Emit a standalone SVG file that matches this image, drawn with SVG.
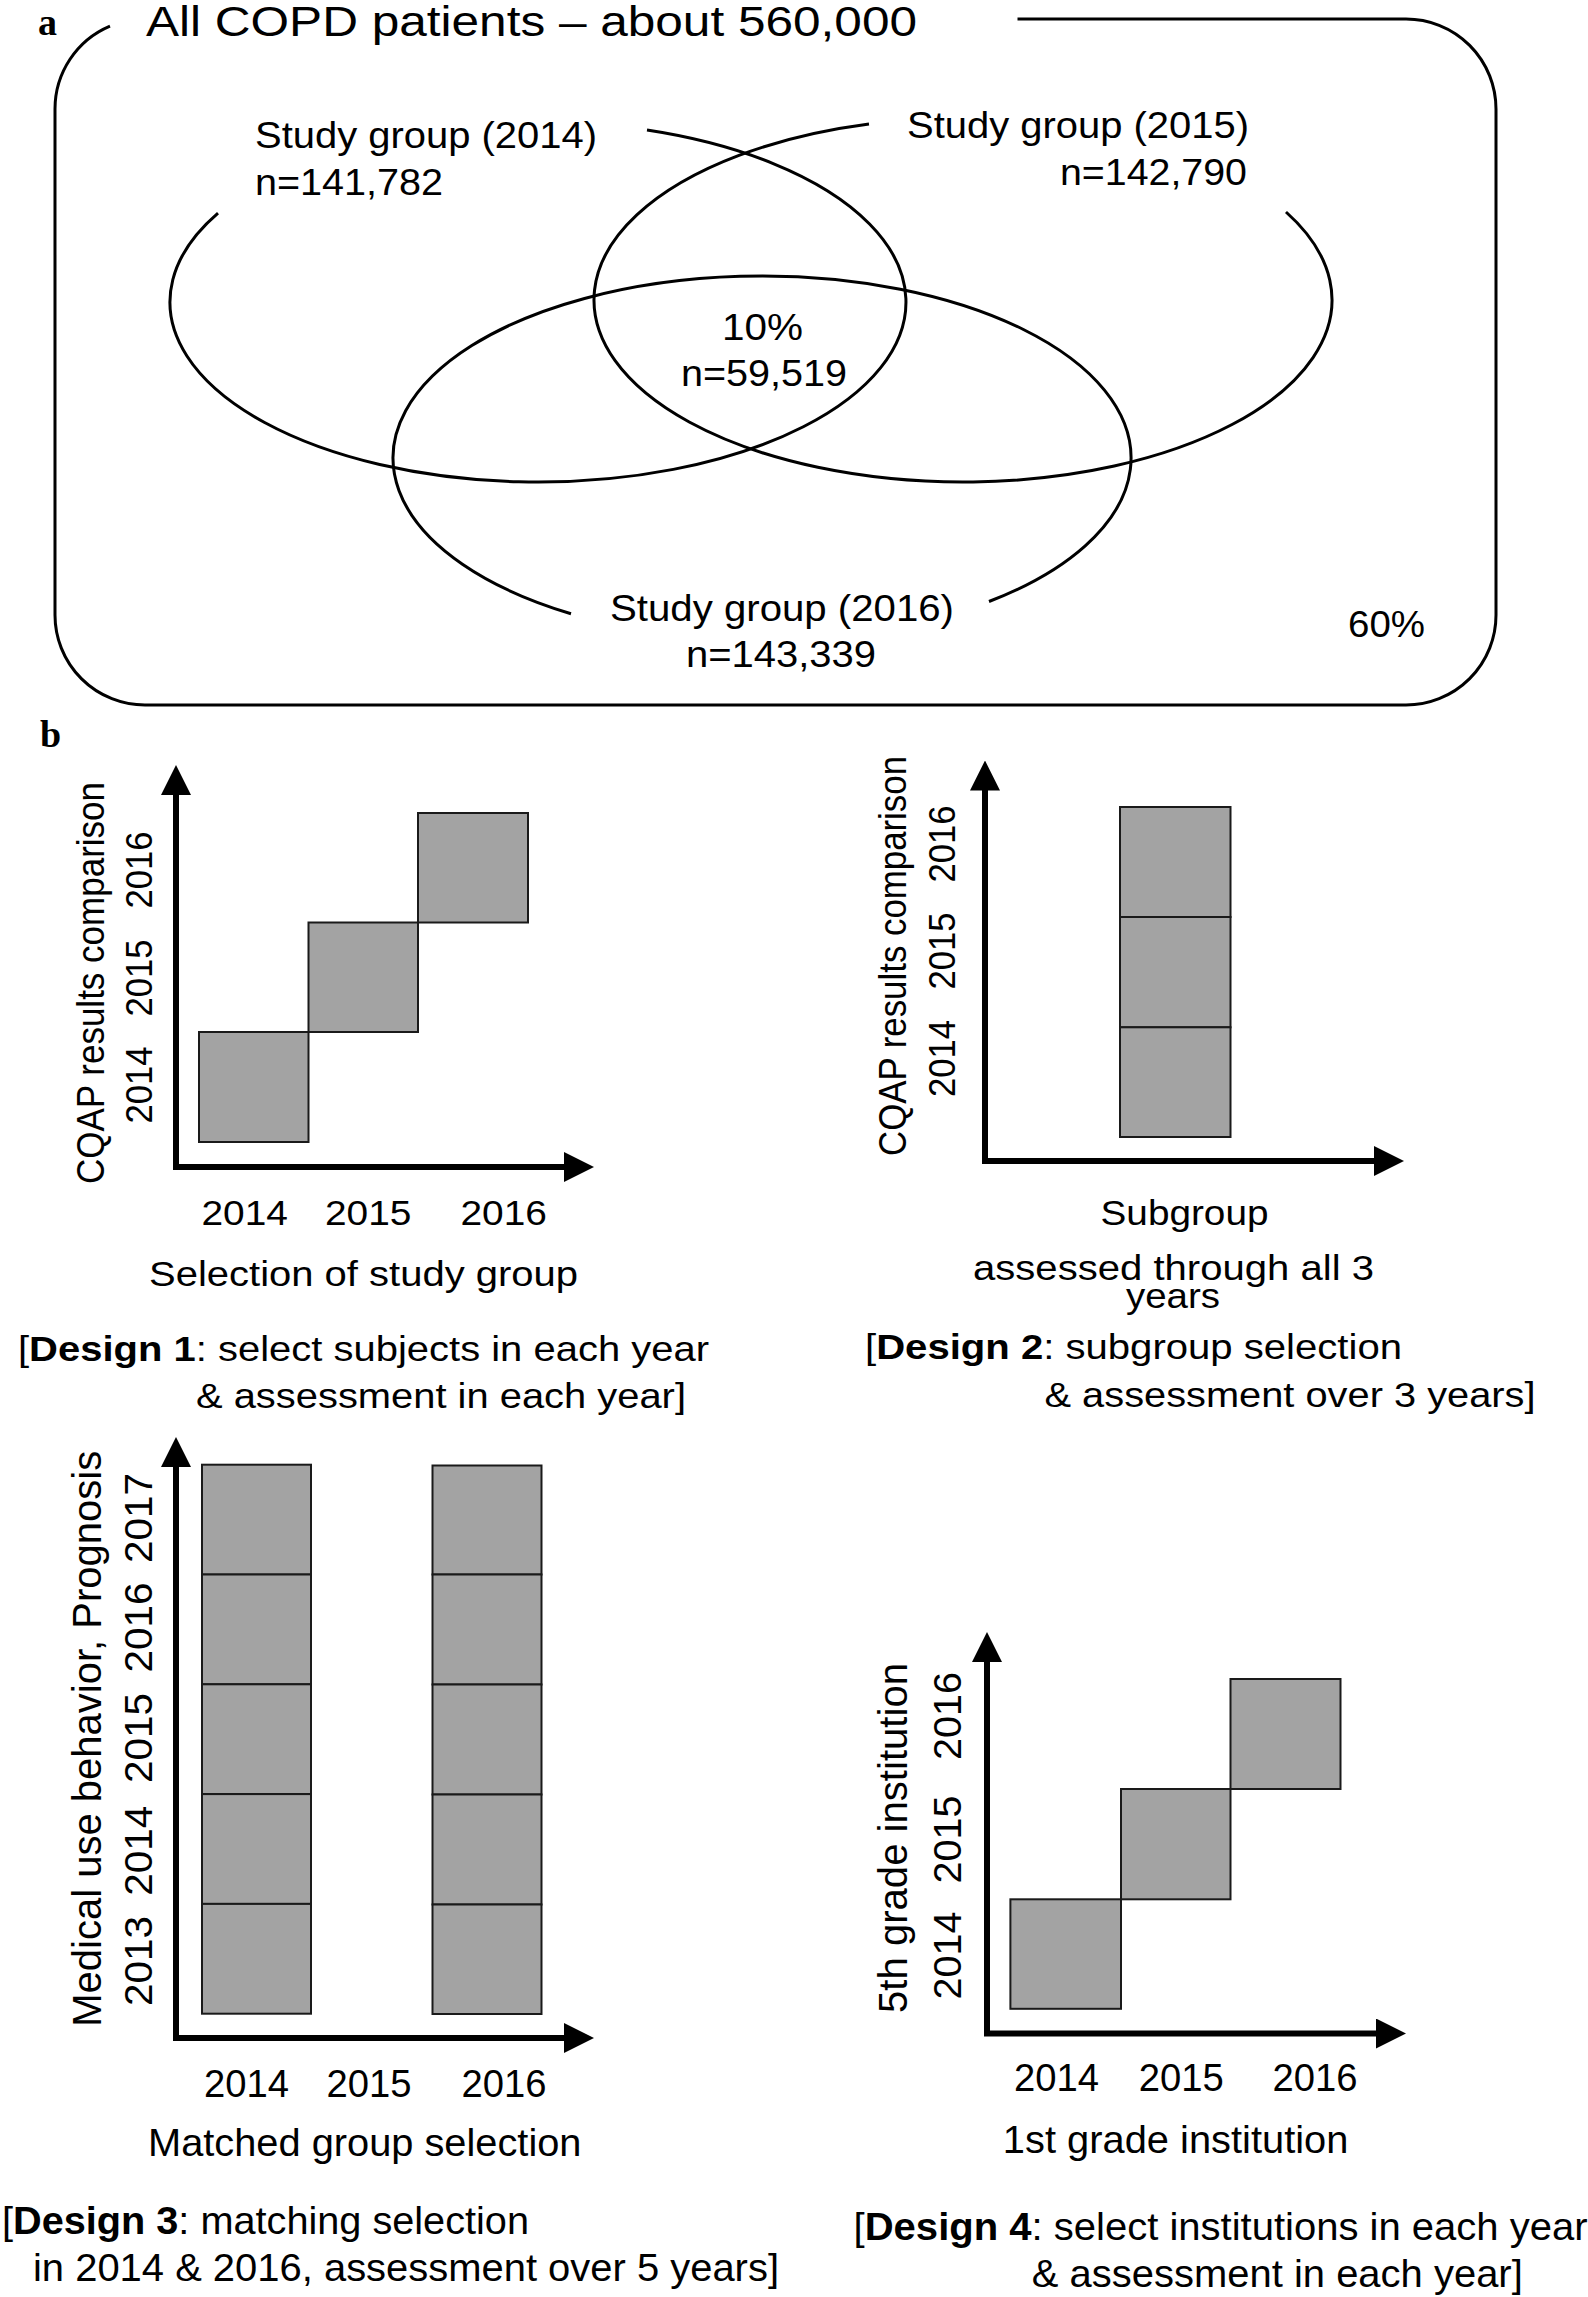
<svg xmlns="http://www.w3.org/2000/svg" width="1588" height="2297" viewBox="0 0 1588 2297">
<defs>
<style>
.t{font-family:"Liberation Sans",Arial,Helvetica,sans-serif;fill:#000}
.pa{font-size:36px}
.b1{font-size:35px}
.b3{font-size:39px}
.lbl{font-family:"Liberation Serif","Times New Roman",serif;font-weight:bold;font-size:38px;fill:#000}
.ell{fill:none;stroke:#000;stroke-width:3}
.box{fill:#a3a3a3;stroke:#1a1a1a;stroke-width:2}
.axis{fill:none;stroke:#000;stroke-width:6;stroke-linejoin:miter;marker-start:url(#ah);marker-end:url(#ah)}
</style>
<marker id="ah" markerUnits="userSpaceOnUse" viewBox="0 0 30 30" markerWidth="30" markerHeight="30" refX="1" refY="15" orient="auto-start-reverse">
<path d="M0,0 L30,15 L0,30 z" fill="#000"/>
</marker>
</defs>
<rect width="1588" height="2297" fill="#fff"/>

<!-- Panel a -->
<g id="panel-a-label"><text class="lbl" x="38" y="35">a</text></g>
<g id="all-copd">
<path class="ell" d="M1017.5,19 H1406 A90,90 0 0 1 1496,109 V615 A90,90 0 0 1 1406,705 H145 A90,90 0 0 1 55,615 V109 A90,90 0 0 1 110,26.1"/>
<text class="t" x="146" y="35.5" font-size="43" textLength="771" lengthAdjust="spacingAndGlyphs">All COPD patients – about 560,000</text>
<text class="t pa" x="1348" y="637" textLength="77" lengthAdjust="spacingAndGlyphs">60%</text>
</g>
<g id="study-2014">
<path class="ell" d="M647,130.1 A368,180 0 1 1 218,213.1"/>
<text class="t pa" x="255" y="148" textLength="342" lengthAdjust="spacingAndGlyphs">Study group (2014)</text>
<text class="t pa" x="255" y="195" textLength="188" lengthAdjust="spacingAndGlyphs">n=141,782</text>
</g>
<g id="study-2015">
<path class="ell" d="M1286,212 A369,182 0 1 1 869,124"/>
<text class="t pa" x="907" y="138" textLength="342" lengthAdjust="spacingAndGlyphs">Study group (2015)</text>
<text class="t pa" x="1060" y="184.5" textLength="187" lengthAdjust="spacingAndGlyphs">n=142,790</text>
</g>
<g id="study-2016">
<path class="ell" d="M989,601.5 A369,182 0 1 0 571,613.7"/>
<text class="t pa" x="610" y="620.5" textLength="344" lengthAdjust="spacingAndGlyphs">Study group (2016)</text>
<text class="t pa" x="686" y="666.5" textLength="190" lengthAdjust="spacingAndGlyphs">n=143,339</text>
</g>
<g id="overlap">
<text class="t pa" x="722" y="340" textLength="81" lengthAdjust="spacingAndGlyphs">10%</text>
<text class="t pa" x="681" y="385.5" textLength="166" lengthAdjust="spacingAndGlyphs">n=59,519</text>
</g>

<!-- Panel b -->
<g id="panel-b-label"><text class="lbl" x="40" y="746.5">b</text></g>

<g id="connectors">
<path class="axis" d="M176,794 V1167 H565"/>
<path class="axis" d="M985,789.5 V1161 H1375"/>
<path class="axis" d="M176,1466 V2038 H565"/>
<path class="axis" d="M987,1661 V2033.5 H1377"/>
</g>

<g id="design1">
<rect class="box" x="199" y="1032" width="109.5" height="110"/>
<rect class="box" x="308.5" y="922.5" width="109.5" height="109.5"/>
<rect class="box" x="418" y="813" width="110" height="109.5"/>
<text class="t" font-size="38" transform="translate(104,1184) rotate(-90)" textLength="402" lengthAdjust="spacingAndGlyphs">CQAP results comparison</text>
<text class="t" font-size="36" transform="translate(152,1123.5) rotate(-90)" textLength="77" lengthAdjust="spacingAndGlyphs">2014</text>
<text class="t" font-size="36" transform="translate(152,1016.5) rotate(-90)" textLength="77" lengthAdjust="spacingAndGlyphs">2015</text>
<text class="t" font-size="36" transform="translate(152,908.5) rotate(-90)" textLength="77" lengthAdjust="spacingAndGlyphs">2016</text>
<text class="t b1" x="201.5" y="1225" textLength="86.5" lengthAdjust="spacingAndGlyphs">2014</text>
<text class="t b1" x="325" y="1225" textLength="86.5" lengthAdjust="spacingAndGlyphs">2015</text>
<text class="t b1" x="460.5" y="1225" textLength="86.5" lengthAdjust="spacingAndGlyphs">2016</text>
<text class="t b1" x="149" y="1286" textLength="429" lengthAdjust="spacingAndGlyphs">Selection of study group</text>
<text class="t b1" x="18" y="1361" textLength="691" lengthAdjust="spacingAndGlyphs">[<tspan font-weight="bold">Design 1</tspan>: select subjects in each year</text>
<text class="t b1" x="196" y="1408" textLength="490" lengthAdjust="spacingAndGlyphs">&amp; assessment in each year]</text>
</g>

<g id="design2">
<rect class="box" x="1120" y="807" width="110.5" height="110"/>
<rect class="box" x="1120" y="917" width="110.5" height="110.3"/>
<rect class="box" x="1120" y="1027.3" width="110.5" height="109.7"/>
<text class="t" font-size="38" transform="translate(906,1156) rotate(-90)" textLength="400" lengthAdjust="spacingAndGlyphs">CQAP results comparison</text>
<text class="t" font-size="36" transform="translate(955.4,1097) rotate(-90)" textLength="77" lengthAdjust="spacingAndGlyphs">2014</text>
<text class="t" font-size="36" transform="translate(955.4,989.5) rotate(-90)" textLength="77" lengthAdjust="spacingAndGlyphs">2015</text>
<text class="t" font-size="36" transform="translate(955.4,882.5) rotate(-90)" textLength="77" lengthAdjust="spacingAndGlyphs">2016</text>
<text class="t b1" x="1100.5" y="1225" textLength="168" lengthAdjust="spacingAndGlyphs">Subgroup</text>
<text class="t b1" x="973" y="1280" textLength="401" lengthAdjust="spacingAndGlyphs">assessed through all 3</text>
<text class="t b1" x="1126" y="1308" textLength="94" lengthAdjust="spacingAndGlyphs">years</text>
<text class="t b1" x="865" y="1359" textLength="537" lengthAdjust="spacingAndGlyphs">[<tspan font-weight="bold">Design 2</tspan>: subgroup selection</text>
<text class="t b1" x="1044.5" y="1407" textLength="491" lengthAdjust="spacingAndGlyphs">&amp; assessment over 3 years]</text>
</g>

<g id="design3">
<rect class="box" x="202" y="1464.7" width="109" height="109.8"/>
<rect class="box" x="202" y="1574.5" width="109" height="109.8"/>
<rect class="box" x="202" y="1684.3" width="109" height="109.8"/>
<rect class="box" x="202" y="1794.1" width="109" height="109.8"/>
<rect class="box" x="202" y="1903.9" width="109" height="109.8"/>
<rect class="box" x="432.5" y="1465.5" width="109" height="109"/>
<rect class="box" x="432.5" y="1574.5" width="109" height="110"/>
<rect class="box" x="432.5" y="1684.5" width="109" height="110"/>
<rect class="box" x="432.5" y="1794.5" width="109" height="110"/>
<rect class="box" x="432.5" y="1904.5" width="109" height="109.5"/>
<text class="t" font-size="40" transform="translate(101,2026.8) rotate(-90)" textLength="576" lengthAdjust="spacingAndGlyphs">Medical use behavior, Prognosis</text>
<text class="t" font-size="38" transform="translate(151.5,2006) rotate(-90)" textLength="90" lengthAdjust="spacingAndGlyphs">2013</text>
<text class="t" font-size="38" transform="translate(151.5,1895.7) rotate(-90)" textLength="90" lengthAdjust="spacingAndGlyphs">2014</text>
<text class="t" font-size="38" transform="translate(151.5,1783) rotate(-90)" textLength="90" lengthAdjust="spacingAndGlyphs">2015</text>
<text class="t" font-size="38" transform="translate(151.5,1672.5) rotate(-90)" textLength="90" lengthAdjust="spacingAndGlyphs">2016</text>
<text class="t" font-size="38" transform="translate(151.5,1563) rotate(-90)" textLength="90" lengthAdjust="spacingAndGlyphs">2017</text>
<text class="t b3" x="204" y="2097" textLength="85" lengthAdjust="spacingAndGlyphs">2014</text>
<text class="t b3" x="326.4" y="2097" textLength="85" lengthAdjust="spacingAndGlyphs">2015</text>
<text class="t b3" x="461.5" y="2097" textLength="85" lengthAdjust="spacingAndGlyphs">2016</text>
<text class="t b3" x="148" y="2155.5" textLength="433.5" lengthAdjust="spacingAndGlyphs">Matched group selection</text>
<text class="t b3" x="2" y="2234" textLength="527" lengthAdjust="spacingAndGlyphs">[<tspan font-weight="bold">Design 3</tspan>: matching selection</text>
<text class="t b3" x="33" y="2281" textLength="746" lengthAdjust="spacingAndGlyphs">in 2014 &amp; 2016, assessment over 5 years]</text>
</g>

<g id="design4">
<rect class="box" x="1010.4" y="1899.3" width="110.6" height="109.5"/>
<rect class="box" x="1121" y="1789" width="109.5" height="110.3"/>
<rect class="box" x="1230.5" y="1679" width="110" height="110"/>
<text class="t" font-size="40" transform="translate(907,2013) rotate(-90)" textLength="350" lengthAdjust="spacingAndGlyphs">5th grade institution</text>
<text class="t" font-size="38" transform="translate(960.5,1999.5) rotate(-90)" textLength="88" lengthAdjust="spacingAndGlyphs">2014</text>
<text class="t" font-size="38" transform="translate(960.5,1883.5) rotate(-90)" textLength="88" lengthAdjust="spacingAndGlyphs">2015</text>
<text class="t" font-size="38" transform="translate(960.5,1760) rotate(-90)" textLength="88" lengthAdjust="spacingAndGlyphs">2016</text>
<text class="t b3" x="1014" y="2091" textLength="85" lengthAdjust="spacingAndGlyphs">2014</text>
<text class="t b3" x="1138.7" y="2091" textLength="85" lengthAdjust="spacingAndGlyphs">2015</text>
<text class="t b3" x="1272.5" y="2091" textLength="85" lengthAdjust="spacingAndGlyphs">2016</text>
<text class="t b3" x="1002.8" y="2152.7" textLength="345.6" lengthAdjust="spacingAndGlyphs">1st grade institution</text>
<text class="t b3" x="853.6" y="2240" textLength="734" lengthAdjust="spacingAndGlyphs">[<tspan font-weight="bold">Design 4</tspan>: select institutions in each year</text>
<text class="t b3" x="1031.8" y="2287" textLength="491" lengthAdjust="spacingAndGlyphs">&amp; assessment in each year]</text>
</g>
</svg>
